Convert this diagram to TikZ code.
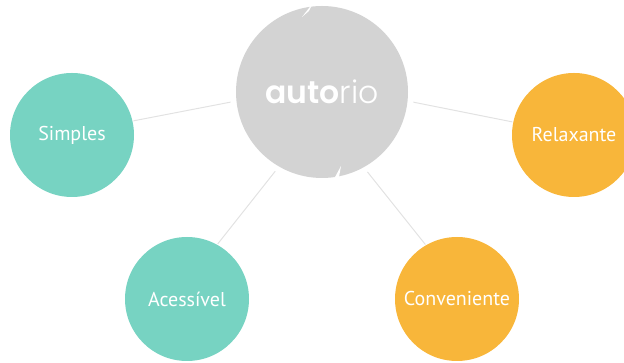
\documentclass[tikz,border=0pt]{standalone}
\usepackage{fontspec}
\setmainfont{PT Sans}
\newfontfamily\logobold{Poppins SemiBold}
\newfontfamily\logolight{Poppins Light}
\definecolor{autogray}{HTML}{D3D3D3}
\definecolor{mint}{HTML}{77D3C2}
\definecolor{amber}{HTML}{F8B63A}
\definecolor{linkgray}{HTML}{E2E2E2}
\begin{document}
\begin{tikzpicture}[x=1pt,y=1pt,
	bubble/.style={circle,minimum size=124pt,inner sep=0pt,outer sep=0pt,text=white,font=\fontsize{20}{20}\selectfont},
	link/.style={draw=linkgray,line width=1pt,shorten <=6pt,shorten >=1pt}]
	\clip (0,0) rectangle (624,363);
	\useasboundingbox (0,0) rectangle (624,363);
	\path node (auto) at (322,271) [circle,minimum size=172pt,inner sep=0pt,outer sep=0pt,fill=autogray,text=white] {\fontsize{31.5}{31.5}\selectfont\logobold auto\logolight rio}
		  node (simples) at (72,228) [bubble,fill=mint] {Simples}
		  node (relax) at (574,228) [bubble,fill=amber] {Relaxante}
		  node (acess) at (187,64) [bubble,fill=mint] {Acessível}
		  node (conv) at (457,64) [bubble,fill=amber] {Conveniente};
	\fill [white] (302,346) -- (313,360) -- (309,352) -- cycle;
	\fill [white] (334,184) -- (341,197) -- (339,186) -- cycle;
	\draw [link] (auto.186) -- (simples.13);
	\draw [link] (auto.-6) -- (relax.168);
	\draw [link] (auto.240) -- (acess.61);
	\draw [link] (auto.299) -- (conv.120);
\end{tikzpicture}
\end{document}
